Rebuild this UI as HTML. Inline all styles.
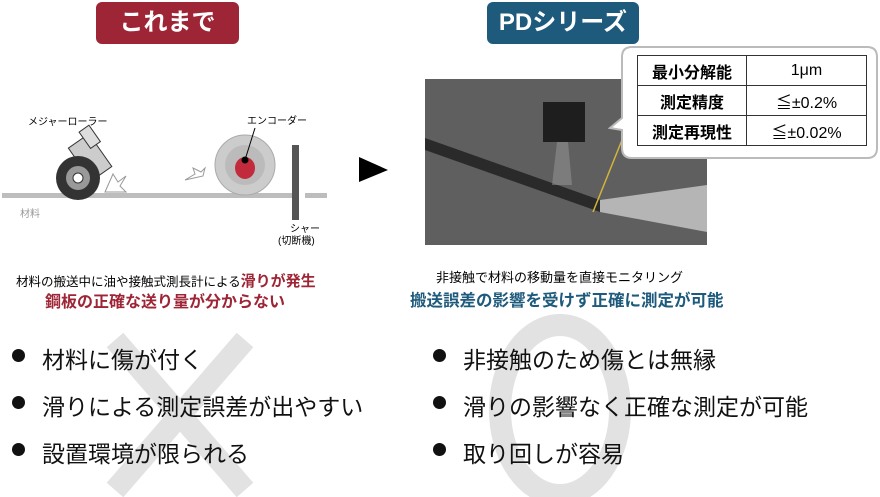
<!DOCTYPE html>
<html><head><meta charset="utf-8"><style>
body{margin:0;width:880px;height:497px;background:#fff;position:relative;overflow:hidden;font-family:"Liberation Sans","Noto Sans CJK JP",sans-serif;}
.a{position:absolute;white-space:nowrap;}
.hdr{position:absolute;top:2px;height:42px;border-radius:6px;color:#fff;font-weight:bold;font-size:24px;text-align:center;line-height:42px;}
.b{font-size:23px;color:#111;}
.dot{position:absolute;width:13px;height:13px;border-radius:50%;background:#111;}
td{border:1.5px solid #333;font-size:16px;text-align:center;height:29px;padding:0;}
</style></head><body>
<svg class="a" style="left:0;top:0" width="880" height="497">
 <line x1="115" y1="340" x2="245" y2="490" stroke="#e2e2e2" stroke-width="22"/>
 <line x1="245" y1="340" x2="115" y2="490" stroke="#e2e2e2" stroke-width="22"/>
 <ellipse cx="560" cy="410" rx="60" ry="85" fill="none" stroke="#e2e2e2" stroke-width="22"/>
 <rect x="2" y="193" width="290" height="5" fill="#bdbdbd"/>
 <rect x="305" y="193" width="22" height="5" fill="#bdbdbd"/>
 <rect x="292" y="145" width="7" height="75" fill="#555"/>
 <g transform="rotate(-35 95 160)"><rect x="80" y="135" width="25" height="40" fill="#ccc" stroke="#333"/><rect x="98" y="128" width="12" height="20" fill="#ddd" stroke="#333"/></g>
 <circle cx="78" cy="178" r="22" fill="#333"/><circle cx="78" cy="178" r="12" fill="#999"/><circle cx="78" cy="178" r="5" fill="#fff" stroke="#333"/>
 <path d="M105 192 l8-18 l5 8 l8-6 l-6 10 l6 6 z" fill="none" stroke="#999"/>
 <path d="M185 180 l10 -6 l-2 -6 l8 4 l4-4 l-2 8 z" fill="none" stroke="#999"/>
 <circle cx="245" cy="165" r="30" fill="#ccc" stroke="#aaa"/><circle cx="245" cy="165" r="20" fill="#bbb"/>
 <ellipse cx="245" cy="168" rx="10" ry="11" fill="#c22b3c"/>
 <line x1="245" y1="160" x2="255" y2="128" stroke="#000"/><circle cx="245" cy="160" r="3.5" fill="#000"/>
 <polygon points="359,157 388,170 359,182" fill="#000"/>
 <rect x="425" y="79" width="282" height="166" fill="#5f5f5f"/>
 <polygon points="425,138 600,200 600,212 425,150" fill="#2a2a2a"/>
 <polygon points="600,200 707,185 707,232 600,212" fill="#b5b5b5"/>
 <rect x="543" y="102" width="42" height="40" fill="#1e1e1e"/>
 <polygon points="557,142 568,142 572,185 552,185" fill="#999" opacity="0.5"/>
 <line x1="622" y1="140" x2="593" y2="212" stroke="#d4b43a" stroke-width="1.5"/>
 <path d="M632 47 H867 Q877 47 877 57 V148 Q877 158 867 158 H632 Q622 158 622 148 V130 L610 128 L622 118 V57 Q622 47 632 47 Z" fill="#fff" stroke="#bbb" stroke-width="2"/>
</svg>
<div class="hdr" style="left:96px;width:143px;background:#9e2535">これまで</div>
<div class="hdr" style="left:487px;width:152px;background:#1d5a7c">PDシリーズ</div>
<table class="a" style="left:637px;top:55px;width:230px;border-collapse:collapse;">
<tr><td style="font-weight:bold;width:108px">最小分解能</td><td>1μm</td></tr>
<tr><td style="font-weight:bold">測定精度</td><td>≦±0.2%</td></tr>
<tr><td style="font-weight:bold">測定再現性</td><td>≦±0.02%</td></tr>
</table>
<div class="a" style="left:28px;top:113px;font-size:10px">メジャーローラー</div>
<div class="a" style="left:247px;top:112px;font-size:10px">エンコーダー</div>
<div class="a" style="left:20px;top:205px;font-size:10px;color:#999">材料</div>
<div class="a" style="left:290px;top:220px;font-size:10px">シャー</div>
<div class="a" style="left:278px;top:232px;font-size:10px">(切断機)</div>
<div class="a" style="left:16px;top:270px;font-size:12.5px">材料の搬送中に油や接触式測長計による<b style="color:#9e2535;font-size:15px">滑りが発生</b></div>
<div class="a" style="left:45px;top:288px;font-size:16px;font-weight:bold;color:#9e2535">鋼板の正確な送り量が分からない</div>
<div class="a" style="left:436px;top:267px;font-size:13px">非接触で材料の移動量を直接モニタリング</div>
<div class="a" style="left:410px;top:287px;font-size:16.5px;font-weight:bold;color:#1d5a7c">搬送誤差の影響を受けず正確に測定が可能</div>
<div class="dot" style="left:12px;top:349px"></div><div class="a b" style="left:42px;top:341px">材料に傷が付く</div>
<div class="dot" style="left:12px;top:396px"></div><div class="a b" style="left:42px;top:388px">滑りによる測定誤差が出やすい</div>
<div class="dot" style="left:12px;top:443px"></div><div class="a b" style="left:42px;top:435px">設置環境が限られる</div>
<div class="dot" style="left:433px;top:349px"></div><div class="a b" style="left:463px;top:341px">非接触のため傷とは無縁</div>
<div class="dot" style="left:433px;top:396px"></div><div class="a b" style="left:463px;top:388px">滑りの影響なく正確な測定が可能</div>
<div class="dot" style="left:433px;top:443px"></div><div class="a b" style="left:463px;top:435px">取り回しが容易</div>
</body></html>
